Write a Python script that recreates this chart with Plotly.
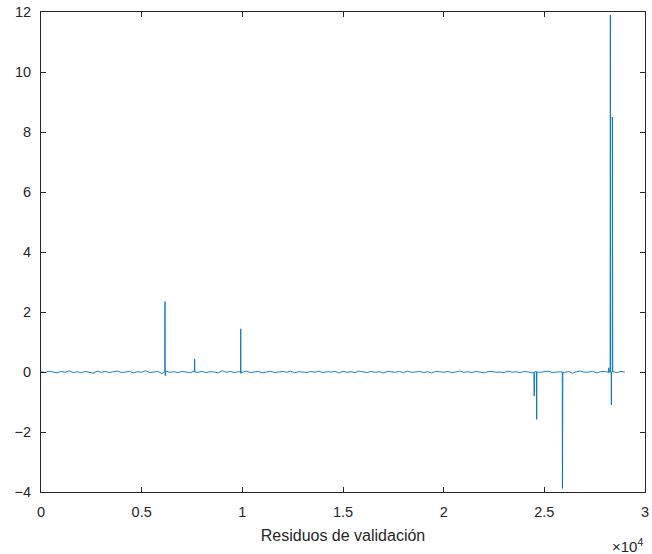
import plotly.graph_objects as go

# Background residual samples (every 200 samples)
base_step = 200
base_values = [
    0.01, -0.02, 0.03, 0.00, -0.03, 0.02, -0.01, 0.04, -0.02, 0.01,
    -0.03, 0.02, 0.00, -0.04, 0.03, -0.01, 0.02, -0.02, 0.01, 0.03,
    -0.02, 0.00, 0.02, -0.03, 0.01, -0.01, 0.04, -0.02, 0.00, 0.02,
    -0.05, 0.03, -0.01, 0.01, -0.02, 0.02, 0.00, -0.03, 0.03, -0.01,
    0.02, -0.02, 0.01, 0.00, -0.03, 0.04, -0.01, 0.02, -0.02, 0.01,
    -0.01, 0.03, -0.02, 0.00, 0.02, -0.03, 0.01, 0.03, -0.02, 0.00,
    0.02, -0.01, 0.03, -0.03, 0.01, 0.00, -0.02, 0.02, -0.01, 0.03,
    -0.02, 0.01, 0.00, 0.02, -0.03, 0.02, -0.01, 0.01, -0.02, 0.03,
    0.00, -0.02, 0.02, -0.01, 0.01, -0.03, 0.02, 0.00, -0.01, 0.02,
    -0.02, 0.03, -0.01, 0.00, 0.02, -0.02, 0.01, -0.03, 0.02, 0.01,
    -0.01, 0.02, -0.02, 0.00, 0.03, -0.01, 0.01, -0.02, 0.02, 0.00,
    -0.03, 0.01, 0.02, -0.01, 0.00, -0.02, 0.03, -0.01, 0.01, -0.02,
    0.02, 0.00, -0.03, 0.02, -0.01, 0.01, 0.03, -0.02, 0.00, 0.01,
    -0.02, 0.02, -0.04, 0.01, 0.03, -0.01, 0.00, 0.02, -0.03, 0.01,
    0.02, -0.01, 0.01, -0.02, 0.02, 0.00,
]

# Isolated spikes (sample index, residual value)
spike_x = [6150, 6160, 6170, 6185,
           7620, 7630, 7640,
           9910, 9920, 9930, 9940,
           24480, 24490, 24500, 24510, 24520, 24610, 24620, 24630,
           25890, 25900, 25910, 25920,
           28190, 28200, 28210,
           28270, 28280, 28285, 28325, 28330, 28335, 28375, 28380, 28385]
spike_y = [0.0, 2.35, -0.12, 0.0,
           0.0, 0.43, 0.0,
           0.0, 1.44, -0.05, 0.0,
           0.0, -0.80, -0.02, -0.78, 0.0, 0.0, -1.58, 0.0,
           0.0, -3.88, -0.08, 0.0,
           0.0, 0.14, 0.0,
           0.0, 11.9, 0.0, 0.0, -1.10, 0.0, 0.0, 8.5, 0.0]

x_tick_vals = [0, 5000, 10000, 15000, 20000, 25000, 30000]
x_tick_text = ["0", "0.5", "1", "1.5", "2", "2.5", "3"]
y_tick_vals = [-4, -2, 0, 2, 4, 6, 8, 10, 12]

points = [(i * base_step, v) for i, v in enumerate(base_values)]
points += list(zip(spike_x, spike_y))
points.sort(key=lambda p: p[0])
xs = [p[0] for p in points]
ys = [p[1] for p in points]

axis_color = "#262626"
font_family = "Liberation Sans, Arial, sans-serif"

fig = go.Figure()
fig.add_trace(go.Scatter(x=xs, y=ys, mode="lines",
                         line=dict(color="#0072BD", width=0.9),
                         showlegend=False, hoverinfo="skip"))

fig.update_layout(
    width=652, height=554,
    margin=dict(l=41, r=7, t=12, b=62, autoexpand=False),
    paper_bgcolor="white", plot_bgcolor="white",
    font=dict(family=font_family, size=14.5, color=axis_color),
    xaxis=dict(range=[0, 30000], tickvals=x_tick_vals, ticktext=x_tick_text,
               showline=True, linecolor=axis_color, linewidth=1, mirror="ticks",
               ticks="inside", ticklen=5, tickcolor=axis_color,
               showgrid=False, zeroline=False, ticklabelstandoff=7,
               ticklabeloverflow="allow",
               title=dict(text="Residuos de validación", font=dict(size=16), standoff=10)),
    yaxis=dict(range=[-4, 12], tickvals=y_tick_vals,
               showline=True, linecolor=axis_color, linewidth=1, mirror="ticks",
               ticks="inside", ticklen=5, tickcolor=axis_color,
               showgrid=False, zeroline=False, ticklabelstandoff=6),
    annotations=[dict(text="×10<sup>4</sup>", xref="paper", yref="paper",
                      x=1.0, y=-0.088, xanchor="right", yanchor="top",
                      showarrow=False, font=dict(size=15, color=axis_color))],
)

fig.write_html("out.html")
